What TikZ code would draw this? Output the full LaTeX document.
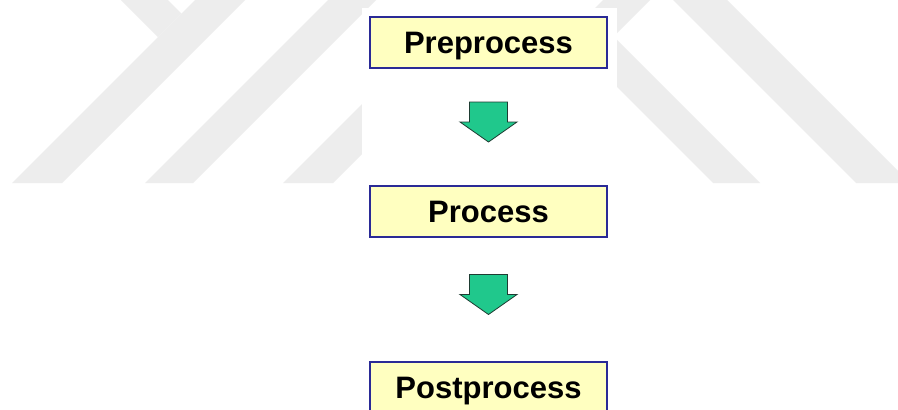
\documentclass[tikz,border=0pt]{standalone}
\usepackage{fontspec}
\setmainfont{Liberation Sans}
\usetikzlibrary{calc}
\definecolor{wm}{RGB}{237,237,237}
\definecolor{boxfill}{RGB}{255,255,192}
\definecolor{boxline}{RGB}{42,42,150}
\definecolor{arrowfill}{RGB}{32,200,140}
\definecolor{arrowline}{RGB}{30,60,50}
\tikzset{
  stage/.style={draw=boxline, line width=1.8pt, fill=boxfill, minimum width=237pt,
    minimum height=51pt, inner sep=0pt, text height=22.5pt, text depth=0pt,
    font=\fontsize{31}{31}\selectfont\bfseries},
  wmark/.style={fill=wm, draw=none},
  blockarrow/.style={fill=arrowfill, draw=arrowline, line width=0.8pt, line join=miter},
  downarrow/.pic={\path[blockarrow] (-19,-20) -- (19,-20) -- (19,0) -- (28.5,0)
    -- (0,20) -- (-28.5,0) -- (-19,0) -- cycle;}
}
\begin{document}
\begin{tikzpicture}[x=1pt,y=-1pt]
\useasboundingbox (0,0) rectangle (898,410);
\begin{scope}
\clip (0,0) rectangle (898,410);
\fill[white] (0,0) rectangle (898,410);
% watermark, left part
\path[wmark] (12,183) -- (62,183) -- (245,0) -- (195,0) -- cycle;
\path[wmark] (121,0) -- (168,0) -- (181.5,13.5) -- (158,37) -- cycle;
\path[wmark] (145,183) -- (193,183) -- (376,0) -- (328,0) -- cycle;
\path[wmark] (283,183) -- (333,183) -- (496,20) -- (446,20) -- cycle;
% watermark, right part
\path[wmark] (713,183) -- (760,183) -- (597,20) -- (550,20) -- cycle;
\path[wmark] (603,0) -- (650,0) -- (613.5,36.5) -- (590,13) -- cycle;
\path[wmark] (673,0) -- (727,0) -- (910,183) -- (856,183) -- cycle;
% white panel
\fill[white] (362,8) rectangle (617,412);
% stages
\node[stage] (pre) at (488.5,42.5) {Preprocess};
\node[stage] (pro) at (488.5,211.5) {Process};
\node[stage] (post) at (488.5,387.5) {Postprocess};
\pic at ($($(pre.south)!0.5!(pro.north)$)+(0,-5)$) {downarrow};
\pic at ($($(pro.south)!0.5!(post.north)$)+(0,-5)$) {downarrow};
\end{scope}
\end{tikzpicture}
\end{document}
